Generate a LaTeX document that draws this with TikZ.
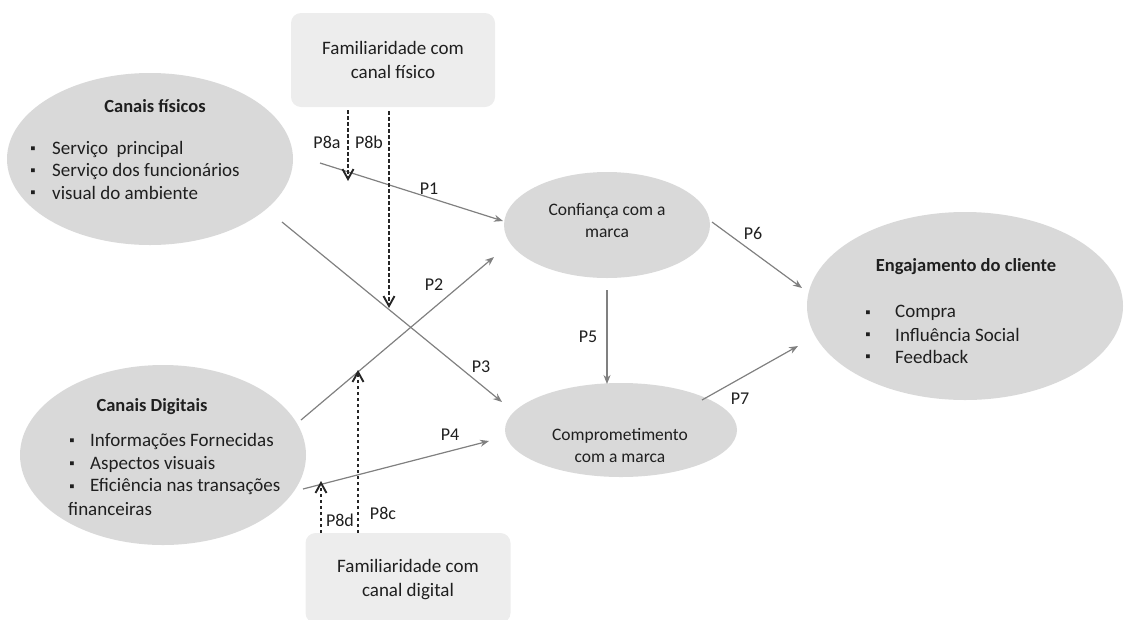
\documentclass[tikz,border=0pt]{standalone}
\usepackage{fontspec}
\setmainfont{Carlito}
\usetikzlibrary{shapes.geometric,arrows.meta}
\definecolor{ellfill}{HTML}{D9D9D9}
\definecolor{boxfill}{HTML}{EDEDED}
\definecolor{linkgray}{HTML}{808080}
\begin{document}
\begin{tikzpicture}[x=1pt,y=-1pt,
  every node/.style={text=black!88, inner sep=0pt},
  construct/.style={ellipse, fill=ellfill, draw=none},
  moderator/.style={rounded corners=10pt, fill=boxfill, draw=none},
  path/.style={draw=linkgray, line width=1.2pt, -{Stealth[length=9pt,width=7pt]}},
  modpath/.style={draw=black!85, line width=1.05pt, dash pattern=on 3.5pt off 2.5pt,
    -{Straight Barb[length=10pt,width=11pt,line width=1.9pt]}},
  lbl/.style={font=\fontsize{18}{20}\selectfont},
  title/.style={font=\fontsize{18.5}{21}\selectfont\bfseries},
  item/.style={font=\fontsize{19}{21}\selectfont, anchor=west},
  bullet/.style={font=\fontsize{15}{17}\selectfont},
  centred/.style={align=center, font=\fontsize{17.5}{22}\selectfont},
  boxtext/.style={align=center, font=\fontsize{19}{24}\selectfont}]
\useasboundingbox (0,0) rectangle (1124,619);

% constructs
\node[construct, minimum width=286pt, minimum height=172pt] (fis) at (150,159) {};
\node[construct, minimum width=286pt, minimum height=180pt] (dig) at (163,455) {};
\node[construct, minimum width=206pt, minimum height=106pt] (conf) at (607,225) {};
\node[construct, minimum width=232pt, minimum height=94pt] (comp) at (621,430) {};
\node[construct, minimum width=316pt, minimum height=188pt] (eng) at (965,306) {};
\node[moderator, minimum width=204pt, minimum height=94pt] (famf) at (393,60) {};
\node[moderator, minimum width=205pt, minimum height=90pt] (famd) at (408,578) {};

% physical channels
\node[title] (fisT) at (155,106) {Canais físicos};
\node[bullet] (fisB1) at (33,150) {▪};
\node[bullet] (fisB2) at (33,172) {▪};
\node[bullet] (fisB3) at (33,194) {▪};
\node[item] (fis1) at (52,149) {Serviço\ \ principal};
\node[item] (fis2) at (52,171) {Serviço dos funcionários};
\node[item] (fis3) at (52,193) {visual do ambiente};

% digital channels
\node[title] (digT) at (152,407) {Canais Digitais};
\node[bullet] (digB1) at (72,442) {▪};
\node[bullet] (digB2) at (72,465) {▪};
\node[bullet] (digB3) at (72,488) {▪};
\node[item] (dig1) at (90,441) {Informações Fornecidas};
\node[item] (dig2) at (90,464) {Aspectos visuais};
\node[item] (dig3) at (90,487) {Eficiência nas transações};
\node[item] (dig4) at (68,509) {financeiras};

% customer engagement
\node[title] (engT) at (966,267) {Engajamento do cliente};
\node[bullet] (engB1) at (868,314) {▪};
\node[bullet] (engB2) at (868,336) {▪};
\node[bullet] (engB3) at (868,358) {▪};
\node[item] (eng1) at (895,313) {Compra};
\node[item] (eng2) at (895,335) {Influência Social};
\node[item] (eng3) at (895,357) {Feedback};

% centred texts
\node[centred] (confT) at (607,221) {Confiança com a\\marca};
\node[centred] (compT) at (620,446) {Comprometimento\\com a marca};
\node[boxtext] (famfT) at (393,60) {Familiaridade com\\canal físico};
\node[boxtext] (famdT) at (408,580) {Familiaridade com\\canal digital};

% connector end points
\coordinate (p1s) at (320,163);  \coordinate (p1e) at (503,221);
\coordinate (p2s) at (301,420);  \coordinate (p2e) at (494,257);
\coordinate (p3s) at (282,222);  \coordinate (p3e) at (502,402);
\coordinate (p4s) at (303,489);  \coordinate (p4e) at (489,441);
\coordinate (p5s) at (607,290);  \coordinate (p5e) at (607,384);
\coordinate (p6s) at (712,222);  \coordinate (p6e) at (802,288);
\coordinate (p7s) at (702,400);  \coordinate (p7e) at (798,346);
\coordinate (p8as) at (348,110); \coordinate (p8ae) at (348,181);
\coordinate (p8bs) at (389,111); \coordinate (p8be) at (389,308);
\coordinate (p8cs) at (358,533); \coordinate (p8ce) at (358,370);
\coordinate (p8ds) at (321,533); \coordinate (p8de) at (321,481);

% hypothesised paths
\draw[path] (p1s) -- (p1e);
\draw[path] (p2s) -- (p2e);
\draw[path] (p3s) -- (p3e);
\draw[path] (p4s) -- (p4e);
\draw[path] (p5s) -- (p5e);
\draw[path] (p6s) -- (p6e);
\draw[path] (p7s) -- (p7e);

% moderating paths
\draw[modpath] (p8as) -- (p8ae);
\draw[modpath] (p8bs) -- (p8be);
\draw[modpath] (p8cs) -- (p8ce);
\draw[modpath] (p8ds) -- (p8de);

% path labels
\node[lbl] (l1) at (429,189) {P1};
\node[lbl] (l2) at (434,285) {P2};
\node[lbl] (l3) at (481,367) {P3};
\node[lbl] (l4) at (450,435) {P4};
\node[lbl] (l5) at (588,337) {P5};
\node[lbl] (l6) at (753,233) {P6};
\node[lbl] (l7) at (740,399) {P7};
\node[lbl] (l8a) at (327,142) {P8a};
\node[lbl] (l8b) at (369,142) {P8b};
\node[lbl] (l8c) at (383,513) {P8c};
\node[lbl] (l8d) at (340,520) {P8d};
\end{tikzpicture}
\end{document}
